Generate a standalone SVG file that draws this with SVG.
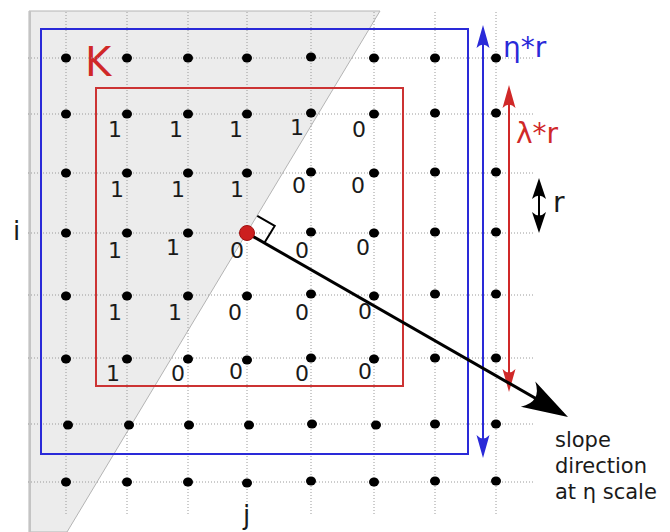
<svg xmlns="http://www.w3.org/2000/svg" width="670" height="532" viewBox="0 0 670 532">
<style>
.grid{stroke:#9a9a9a;stroke-width:1;stroke-dasharray:1 2;fill:none}
.dot{fill:#000}
.num{font-family:"DejaVu Sans",sans-serif;font-size:22px;fill:#1a1a1a;text-anchor:middle}
.lbl{font-family:"DejaVu Sans",sans-serif;fill:#1a1a1a}
</style>
<defs>
<marker id="hb" viewBox="-24 -8 25 16" markerWidth="25" markerHeight="16" refX="-4" refY="0" markerUnits="userSpaceOnUse" orient="auto-start-reverse">
<path d="M0,0 L-23,-6.5 Q-16,0 -23,6.5 Z" fill="#2a2ad8"/>
</marker>
<marker id="hr" viewBox="-24 -8 25 16" markerWidth="25" markerHeight="16" refX="-4" refY="0" markerUnits="userSpaceOnUse" orient="auto-start-reverse">
<path d="M0,0 L-23,-6.5 Q-16,0 -23,6.5 Z" fill="#d02828"/>
</marker>
<marker id="hk" viewBox="-24 -8 25 16" markerWidth="25" markerHeight="16" refX="-4" refY="0" markerUnits="userSpaceOnUse" orient="auto-start-reverse">
<path d="M0,0 L-21,-7 Q-14,0 -21,7 Z" fill="#000"/>
</marker>
<marker id="hs" viewBox="-48 -16 49 32" markerWidth="49" markerHeight="32" refX="-6" refY="0" markerUnits="userSpaceOnUse" orient="auto">
<path d="M0,0 L-46,-14.5 Q-30,0 -46,14.5 Z" fill="#000"/>
</marker>
</defs>
<rect width="670" height="532" fill="#fff"/>
<g id="region-K">
<polygon points="29,11 380,11 67,532 29,532" fill="#ececec" stroke="#b4b4b4" stroke-width="1"/>
<line x1="30" y1="11" x2="30" y2="532" stroke="#c4c4c4" stroke-width="2"/>
<text x="85" y="76" font-family="DejaVu Sans, sans-serif" font-size="40" fill="#d02828">K</text>
</g>
<g id="grid">
<path class="grid" d="M28,58H533M28,114H533M28,173H533M28,233H533M28,295H533M28,358H533M28,424H533M28,482H533"/>
<path class="grid" d="M66,12V515M127,12V515M188,12V515M247,12V515M311,12V515M374,12V515M435,12V515M496,12V515"/>
</g>
<g id="windows">
<rect id="eta-window" x="41" y="29" width="427" height="425" fill="none" stroke="#2a2ad8" stroke-width="2"/>
<rect id="lambda-window" x="96" y="88" width="307" height="298" fill="none" stroke="#cc3333" stroke-width="2"/>
</g>
<g id="dots">
<g class="dot">
<ellipse cx="66" cy="58" rx="5" ry="4.5"/><ellipse cx="127" cy="58" rx="5" ry="4.5"/><ellipse cx="188" cy="58" rx="5" ry="4.5"/><ellipse cx="247" cy="58" rx="5" ry="4.5"/><ellipse cx="311" cy="57" rx="5" ry="4.5"/><ellipse cx="374" cy="58" rx="5" ry="4.5"/><ellipse cx="435" cy="58" rx="5" ry="4.5"/><ellipse cx="496" cy="58" rx="5" ry="4.5"/>
<ellipse cx="66" cy="114" rx="5" ry="4.5"/><ellipse cx="127" cy="114" rx="5" ry="4.5"/><ellipse cx="188" cy="114" rx="5" ry="4.5"/><ellipse cx="247" cy="114" rx="5" ry="4.5"/><ellipse cx="311" cy="113" rx="5" ry="4.5"/><ellipse cx="374" cy="114" rx="5" ry="4.5"/><ellipse cx="435" cy="113" rx="5" ry="4.5"/><ellipse cx="496" cy="113" rx="5" ry="4.5"/>
<ellipse cx="66" cy="173" rx="5" ry="4.5"/><ellipse cx="127" cy="173" rx="5" ry="4.5"/><ellipse cx="188" cy="173" rx="5" ry="4.5"/><ellipse cx="247" cy="173" rx="5" ry="4.5"/><ellipse cx="311" cy="172" rx="5" ry="4.5"/><ellipse cx="374" cy="173" rx="5" ry="4.5"/><ellipse cx="435" cy="172" rx="5" ry="4.5"/><ellipse cx="496" cy="172" rx="5" ry="4.5"/>
<ellipse cx="66" cy="233" rx="5" ry="4.5"/><ellipse cx="127" cy="233" rx="5" ry="4.5"/><ellipse cx="188" cy="233" rx="5" ry="4.5"/><ellipse cx="311" cy="232" rx="5" ry="4.5"/><ellipse cx="374" cy="233" rx="5" ry="4.5"/><ellipse cx="435" cy="232" rx="5" ry="4.5"/><ellipse cx="496" cy="232" rx="5" ry="4.5"/>
<ellipse cx="66" cy="296" rx="5" ry="4.5"/><ellipse cx="127" cy="296" rx="5" ry="4.5"/><ellipse cx="188" cy="296" rx="5" ry="4.5"/><ellipse cx="247" cy="296" rx="5" ry="4.5"/><ellipse cx="311" cy="294" rx="5" ry="4.5"/><ellipse cx="374" cy="296" rx="5" ry="4.5"/><ellipse cx="435" cy="294" rx="5" ry="4.5"/><ellipse cx="496" cy="294" rx="5" ry="4.5"/>
<ellipse cx="66" cy="359" rx="5" ry="4.5"/><ellipse cx="127" cy="359" rx="5" ry="4.5"/><ellipse cx="188" cy="359" rx="5" ry="4.5"/><ellipse cx="247" cy="360" rx="5" ry="4.5"/><ellipse cx="311" cy="358" rx="5" ry="4.5"/><ellipse cx="374" cy="359" rx="5" ry="4.5"/><ellipse cx="435" cy="358" rx="5" ry="4.5"/><ellipse cx="496" cy="358" rx="5" ry="4.5"/>
<ellipse cx="68" cy="425" rx="5" ry="4.5"/><ellipse cx="129" cy="425" rx="5" ry="4.5"/><ellipse cx="189" cy="425" rx="5" ry="4.5"/><ellipse cx="249" cy="425" rx="5" ry="4.5"/><ellipse cx="312" cy="424" rx="5" ry="4.5"/><ellipse cx="376" cy="425" rx="5" ry="4.5"/><ellipse cx="435" cy="424" rx="5" ry="4.5"/><ellipse cx="496" cy="424" rx="5" ry="4.5"/>
<ellipse cx="66" cy="482" rx="5" ry="4.5"/><ellipse cx="127" cy="482" rx="5" ry="4.5"/><ellipse cx="188" cy="482" rx="5" ry="4.5"/><ellipse cx="247" cy="483" rx="5" ry="4.5"/><ellipse cx="311" cy="481" rx="5" ry="4.5"/><ellipse cx="374" cy="482" rx="5" ry="4.5"/><ellipse cx="435" cy="481" rx="5" ry="4.5"/><ellipse cx="496" cy="481" rx="5" ry="4.5"/>
</g>
</g>
<g id="values">
<text class="num" x="115" y="137">1</text><text class="num" x="176" y="137">1</text><text class="num" x="236" y="137">1</text><text class="num" x="297" y="135">1</text><text class="num" x="359" y="137">0</text>
<text class="num" x="117" y="197">1</text><text class="num" x="178" y="197">1</text><text class="num" x="237" y="197">1</text><text class="num" x="299" y="193">0</text><text class="num" x="358" y="193">0</text>
<text class="num" x="115" y="258">1</text><text class="num" x="173" y="255">1</text><text class="num" x="237" y="258">0</text><text class="num" x="302" y="258">0</text><text class="num" x="363" y="255">0</text>
<text class="num" x="115" y="320">1</text><text class="num" x="175" y="320">1</text><text class="num" x="235" y="320">0</text><text class="num" x="302" y="320">0</text><text class="num" x="365" y="319">0</text>
<text class="num" x="113" y="381">1</text><text class="num" x="178" y="381">0</text><text class="num" x="236" y="379">0</text><text class="num" x="302" y="381">0</text><text class="num" x="365" y="379">0</text>
</g>
<g id="connectors">
<line x1="483" y1="29" x2="483" y2="454" stroke="#2a2ad8" stroke-width="2" marker-start="url(#hb)" marker-end="url(#hb)"/>
<line x1="509" y1="89" x2="509" y2="388" stroke="#d02828" stroke-width="2" marker-start="url(#hr)" marker-end="url(#hr)"/>
<line x1="539" y1="182" x2="539" y2="229" stroke="#000" stroke-width="2" marker-start="url(#hk)" marker-end="url(#hk)"/>
<line x1="247" y1="233" x2="562.8" y2="414" stroke="#000" stroke-width="3" marker-end="url(#hs)"/>
<polyline points="257.3,215.9 274.7,225.9 264.3,242.9" fill="none" stroke="#000" stroke-width="2"/>
</g>
<g id="point">
<circle cx="247" cy="233" r="7.5" fill="#cc1f1f" stroke="#a01010" stroke-width="1"/>
</g>
<g id="labels">
<text x="503" y="57" font-family="DejaVu Sans, sans-serif" font-size="28" fill="#2a2ad8">η*r</text>
<text x="516" y="143" font-family="DejaVu Sans, sans-serif" font-size="28" fill="#d02828">λ*r</text>
<text class="lbl" x="553" y="212" font-size="28">r</text>
<text class="lbl" x="13" y="240" font-size="26">i</text>
<text class="lbl" x="243" y="524" font-size="26">j</text>
<text class="lbl" x="555" y="447" font-size="21">slope</text>
<text class="lbl" x="555" y="473" font-size="21">direction</text>
<text class="lbl" x="555" y="499" font-size="21">at η scale</text>
</g>
</svg>
